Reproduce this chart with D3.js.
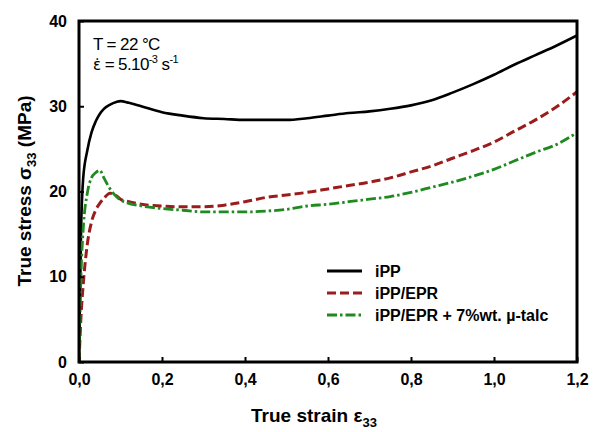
<!DOCTYPE html>
<html><head><meta charset="utf-8">
<script src="https://cdn.jsdelivr.net/npm/d3@7"></script>
<style>body{margin:0;background:#fff}svg{display:block;font-family:Arial,"Liberation Sans",sans-serif}</style>
</head><body><svg id="c" width="594" height="432"></svg>
<script>
const strain = [0,0.005,0.01,0.02,0.03,0.04,0.05,0.06,0.075,0.09,0.1,0.12,0.15,0.2,0.25,0.3,0.35,0.4,0.45,0.5,0.55,0.6,0.65,0.7,0.75,0.8,0.85,0.9,0.95,1.0,1.05,1.1,1.15,1.2];
const iPP = [0,15.5,21.5,24.8,26.9,28.2,29.1,29.7,30.2,30.5,30.6,30.4,30.0,29.3,28.9,28.6,28.5,28.4,28.4,28.4,28.6,28.9,29.2,29.4,29.7,30.1,30.7,31.6,32.6,33.7,34.9,36.0,37.1,38.3];
const iPPEPR = [0,5.5,9.0,13.8,16.4,17.8,18.6,19.2,19.8,19.5,19.1,18.8,18.5,18.3,18.2,18.2,18.4,18.8,19.3,19.6,19.9,20.3,20.7,21.1,21.6,22.3,23.0,23.9,24.8,25.8,27.1,28.4,29.9,31.7];
const iPPEPRtalc = [0,10.5,15.5,19.8,21.6,22.2,22.5,21.6,20.3,19.4,19.0,18.6,18.3,18.0,17.8,17.6,17.6,17.6,17.7,17.9,18.3,18.5,18.8,19.1,19.4,19.9,20.5,21.1,21.8,22.6,23.6,24.6,25.5,26.9];
const seriesNames = ["iPP","iPP/EPR","iPP/EPR + 7%wt. µ-talc"];
const xTicks = [0,0.2,0.4,0.6,0.8,1.0,1.2];
const xTickLabels = ["0,0","0,2","0,4","0,6","0,8","1,0","1,2"];
const yTicks = [0,10,20,30,40];

const svg = d3.select("#c");
const L=79,R=577,T=21,B=362;
const x = d3.scaleLinear().domain([0,1.2]).range([L,R]);
const y = d3.scaleLinear().domain([0,40]).range([B,T]);

const styles = [
  {color:"#000000", dash:null, w:2.6},
  {color:"#9b1c1c", dash:"9,4", w:3},
  {color:"#1f8a1f", dash:"10,3,2.5,3", w:2.8}
];
const data = [iPP, iPPEPR, iPPEPRtalc];

const line = d3.line().x((d,i)=>x(strain[i])).y(d=>y(d)).curve(d3.curveMonotoneX);
const g = svg.append("g");
g.append("defs").append("clipPath").attr("id","clip").append("rect").attr("x",L).attr("y",T-2).attr("width",R-L).attr("height",B-T+2);
data.forEach((s,k)=>{
  g.append("path").datum(s).attr("d",line).attr("fill","none")
   .attr("stroke",styles[k].color).attr("stroke-width",styles[k].w)
   .attr("stroke-dasharray",styles[k].dash).attr("clip-path","url(#clip)");
});

// axes
const xAx = d3.axisBottom(x).tickValues(xTicks).tickSize(-5).tickPadding(12).tickFormat((d,i)=>xTickLabels[i]);
const yAx = d3.axisLeft(y).tickValues(yTicks).tickSize(-5).tickPadding(12);
const gx = svg.append("g").attr("transform",`translate(0,${B})`).call(xAx);
const gy = svg.append("g").attr("transform",`translate(${L},0)`).call(yAx);
[gx,gy].forEach(a=>{
  a.select(".domain").remove();
  a.selectAll(".tick line").attr("stroke","#000").attr("stroke-width",2);
  a.selectAll("text").attr("font-size",16).attr("font-weight","bold").attr("fill","#000").attr("font-family","Arial, 'Liberation Sans', sans-serif");
});
svg.append("rect").attr("x",L).attr("y",T).attr("width",R-L).attr("height",B-T)
  .attr("fill","none").attr("stroke","#000").attr("stroke-width",3);

// axis titles
const xt = svg.append("text").attr("x",314).attr("y",422).attr("text-anchor","middle")
  .attr("font-size",19).attr("font-weight","bold");
xt.append("tspan").text("True strain ε");
xt.append("tspan").attr("font-size",13).attr("dy",5).text("33");

const yt = svg.append("text").attr("transform","translate(31,191) rotate(-90)").attr("text-anchor","middle")
  .attr("font-size",19).attr("font-weight","bold");
yt.append("tspan").text("True stress σ");
yt.append("tspan").attr("font-size",13).attr("dy",5).text("33");
yt.append("tspan").attr("dy",-5).text(" (MPa)");

// annotation
svg.append("text").attr("x",93).attr("y",50).attr("font-size",17).attr("letter-spacing",-0.6).text("T = 22 °C");
const an = svg.append("text").attr("x",93).attr("y",70).attr("font-size",17).attr("letter-spacing",-0.6);
an.append("tspan").attr("font-family","'DejaVu Sans'").attr("font-size",15).text("ε\u0307");
an.append("tspan").text(" = 5.10");
an.append("tspan").attr("font-size",11).attr("dy",-7).text("-3");
an.append("tspan").attr("dy",7).text(" s");
an.append("tspan").attr("font-size",11).attr("dy",-7).text("-1");

// legend
const ly = [271,293,315];
seriesNames.forEach((n,k)=>{
  svg.append("line").attr("x1",327).attr("x2",362).attr("y1",ly[k]).attr("y2",ly[k])
    .attr("stroke",styles[k].color).attr("stroke-width",3).attr("stroke-dasharray",styles[k].dash);
  svg.append("text").attr("x",375).attr("y",ly[k]+6).attr("font-size",16).attr("font-weight","bold").text(n);
});
</script></body></html>
